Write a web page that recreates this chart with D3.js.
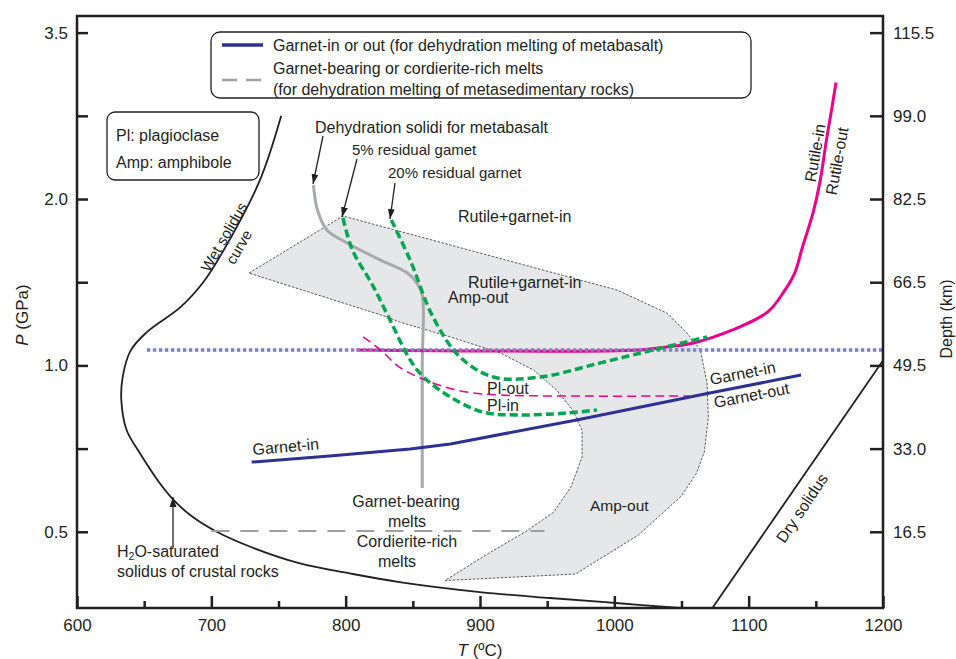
<!DOCTYPE html>
<html><head><meta charset="utf-8">
<script src="https://cdn.jsdelivr.net/npm/d3@7"></script>
<style>
body{margin:0;background:#fff}
text{font-family:"Liberation Sans",Arial,sans-serif;fill:#231f20}
</style>
</head><body>
<svg id="c" width="956" height="659"></svg>
<script>
// ---------- data (T in ºC, P in GPa on the linear depth scale) ----------
const xTicks = [600, 700, 800, 900, 1000, 1100, 1200];
const xMinorTicks = [650, 750, 850, 950, 1050, 1150];
const pTickValues = [3.5, 3.0, 2.5, 2.0, 1.5, 1.0, 0.5];
const pTickLabels = ["3.5", "", "2.0", "", "1.0", "", "0.5"];
const depthTickLabels = ["115.5", "99.0", "82.5", "66.5", "49.5", "33.0", "16.5"];

const wetSolidus = [[752,3.00],[736,2.61],[709,2.19],[694,2.00],[677,1.85],[652,1.70],[640,1.59],[634,1.43],[633,1.29],[637,1.11],[647,0.97],[660,0.81],[672,0.69],[686,0.59],[704,0.50],[729,0.41],[766,0.31],[803,0.25],[840,0.198],[900,0.138],[952,0.102],[1001,0.072],[1049,0.042]];
const drySolidus = [[1073,0.042],[1200,1.53]];
const ampField = [[728,2.055],[798,2.398],[1002,1.953],[1039,1.815],[1054,1.695],[1064,1.593],[1069,1.394],[1070,1.19],[1067,0.98],[1061,0.85],[1050,0.716],[1018,0.481],[971,0.246],[874,0.207],[905,0.364],[934,0.501],[955,0.619],[968,0.775],[976,0.95],[976,1.11],[969,1.232],[957,1.352],[940,1.472],[915,1.575],[878,1.671],[840,1.761],[831,1.791]];
const residualGarnet5 = [[798,2.386],[805,2.194],[820,1.983],[833,1.773],[848,1.533],[858,1.430],[878,1.310],[902,1.220],[928,1.202],[965,1.214],[987,1.232]];
const residualGarnet20 = [[834,2.374],[848,2.133],[865,1.791],[885,1.551],[910,1.430],[945,1.430],[989,1.514],[1029,1.593],[1069,1.671]];
const dehydrationSolidus = [[776,2.584],[779,2.434],[786,2.314],[801,2.236],[826,2.133],[846,2.055],[853,1.995],[857,1.923],[857,1.5],[857,0.763]];
const rutileLine = [[808,1.593],[1019,1.593],[1039,1.611],[1059,1.635],[1088,1.713],[1114,1.82],[1126,1.94],[1134,2.05],[1140,2.21],[1148,2.42],[1153,2.60],[1158,2.86],[1162,3.05],[1165,3.20]];
const dottedLine = [[652,1.593],[1200,1.593]];
const plOutLine = [[813,1.671],[826,1.593],[840,1.490],[865,1.394],[890,1.340],[915,1.322],[965,1.316],[1056,1.316]];
const garnetLine = [[730,0.919],[788,0.956],[848,0.998],[878,1.028],[972,1.172],[1071,1.334],[1139,1.442]];
const meltsLine = [[700,0.505],[948,0.505]];

// ---------- setup ----------
const svg = d3.select("#c");
svg.append("rect").attr("width",956).attr("height",659).attr("fill","#fff");
const x = d3.scaleLinear().domain([600,1200]).range([77,883]);
const y = d3.scaleLinear().domain([0.042,3.6]).range([608,16]);
const ink = "#231f20";

const defs = svg.append("defs");
defs.append("marker").attr("id","arr").attr("viewBox","0 0 10 7")
  .attr("refX",10).attr("refY",3.5).attr("markerWidth",10).attr("markerHeight",7)
  .attr("markerUnits","userSpaceOnUse").attr("orient","auto")
  .append("path").attr("d","M0,0L10,3.5L0,7Z").attr("fill",ink);

const smooth = d3.line().x(d=>x(d[0])).y(d=>y(d[1])).curve(d3.curveCatmullRom.alpha(0.5));
const straight = d3.line().x(d=>x(d[0])).y(d=>y(d[1]));

function draw(data, gen, stroke, width, dash){
  const p = svg.append("path").attr("d",gen(data)).attr("fill","none")
    .attr("stroke",stroke).attr("stroke-width",width);
  if(dash) p.attr("stroke-dasharray",dash);
  return p;
}

// amphibole field
svg.append("path")
  .attr("d", d3.line().x(d=>x(d[0])).y(d=>y(d[1])).curve(d3.curveLinearClosed)(ampField))
  .attr("fill","#e6e7e9").attr("stroke","#58595b").attr("stroke-width",1)
  .attr("stroke-dasharray","2.5,1.5");

draw(wetSolidus, smooth, ink, 1.8);
draw(drySolidus, straight, ink, 1.8);
draw(meltsLine, straight, "#9d9fa2", 2, "18,11");
draw(dehydrationSolidus, smooth, "#a7a9ac", 3);
draw(rutileLine, smooth, "#ec008c", 3);
draw(dottedLine, straight, "#7f7fc4", 3.5, "3.5,2.5");
draw(plOutLine, smooth, "#ec008c", 1.5, "9,5");
draw(garnetLine, straight, "#2e3192", 3);
draw(residualGarnet5, smooth, "#00a651", 3.5, "8,4");
draw(residualGarnet20, smooth, "#00a651", 3.5, "8,4");

// ---------- axes ----------
function styleAxis(g){
  g.select(".domain").remove();
  g.selectAll(".tick line").attr("stroke",ink).attr("stroke-width",2.5);
  g.selectAll(".tick text").attr("font-size",17).attr("fill",ink)
    .style("font-family","'Liberation Sans',Arial,sans-serif");
}
svg.append("g").attr("transform","translate(0,608)")
  .call(d3.axisBottom(x).tickValues(xTicks).tickSizeInner(-12).tickSizeOuter(0).tickPadding(11).tickFormat(d3.format("d")))
  .call(styleAxis);
svg.append("g").attr("transform","translate(0,608)")
  .call(d3.axisBottom(x).tickValues(xMinorTicks).tickSizeInner(-7).tickSizeOuter(0).tickFormat(""))
  .call(styleAxis);
svg.append("g").attr("transform","translate(77,0)")
  .call(d3.axisLeft(y).tickValues(pTickValues).tickSizeInner(-11).tickSizeOuter(0).tickPadding(9).tickFormat((d,i)=>pTickLabels[i]))
  .call(styleAxis);
svg.append("g").attr("transform","translate(883,0)")
  .call(d3.axisRight(y).tickValues(pTickValues).tickSizeInner(-13).tickSizeOuter(0).tickPadding(10).tickFormat((d,i)=>depthTickLabels[i]))
  .call(styleAxis);
svg.append("rect").attr("x",77).attr("y",16).attr("width",806).attr("height",592)
  .attr("fill","none").attr("stroke",ink).attr("stroke-width",2.5);

// axis titles
const tT = svg.append("text").attr("x",480).attr("y",656).attr("text-anchor","middle").attr("font-size",17);
tT.append("tspan").attr("font-style","italic").text("T");
tT.append("tspan").text(" (ºC)");
const tP = svg.append("text").attr("transform","translate(22,315) rotate(-90)").attr("text-anchor","middle").attr("dy","0.35em").attr("font-size",17);
tP.append("tspan").attr("font-style","italic").text("P");
tP.append("tspan").text(" (GPa)");
svg.append("text").attr("transform","translate(946,319) rotate(-90)").attr("text-anchor","middle").attr("dy","0.35em").attr("font-size",16).text("Depth (km)");

// ---------- legend ----------
svg.append("rect").attr("x",211).attr("y",32).attr("width",540).attr("height",66).attr("rx",9)
  .attr("fill","#fff").attr("stroke",ink).attr("stroke-width",1.3);
svg.append("line").attr("x1",222).attr("x2",263).attr("y1",45).attr("y2",45).attr("stroke","#2e3192").attr("stroke-width",3.5);
svg.append("line").attr("x1",222).attr("x2",263).attr("y1",80).attr("y2",80).attr("stroke","#9d9fa2").attr("stroke-width",2.5).attr("stroke-dasharray","15,9");
function label(t,x0,y0,opts={}){
  const e = svg.append("text").attr("x",x0).attr("y",y0).attr("font-size",opts.size||16).text(t);
  if(opts.anchor) e.attr("text-anchor",opts.anchor);
  if(opts.rot!==undefined) e.attr("transform",`rotate(${opts.rot},${x0},${y0})`);
  return e;
}
label("Garnet-in or out (for dehydration melting of metabasalt)",273,50.5);
label("Garnet-bearing or cordierite-rich melts",273,73.5);
label("(for dehydration melting of metasedimentary rocks)",273,94.5);

svg.append("rect").attr("x",107).attr("y",112).attr("width",152).attr("height",68).attr("rx",8)
  .attr("fill","#fff").attr("stroke",ink).attr("stroke-width",1.3);
label("Pl: plagioclase",116,140.5);
label("Amp: amphibole",116,167.5);

// ---------- annotations ----------
label("Dehydration solidi for metabasalt",315,132.5);
label("5% residual gamet",352,155,{size:15});
label("20% residual garnet",388,178,{size:15});
label("Rutile+garnet-in",458,222);
label("Rutile+garnet-in",468,288);
label("Amp-out",448,303);
label("Pl-out",487,394);
label("Pl-in",487,411);
label("Garnet-in",711,385,{rot:-11});
label("Garnet-out",715,408,{rot:-11});
label("Garnet-in",253,455,{rot:-5});
label("Garnet-bearing",406,507,{anchor:"middle"});
label("melts",407,527,{anchor:"middle"});
label("Cordierite-rich",407,547,{anchor:"middle"});
label("melts",397,567,{anchor:"middle"});
label("Amp-out",590,511,{size:15.5});
const h2o = svg.append("text").attr("x",117).attr("y",557).attr("font-size",16);
h2o.append("tspan").text("H");
h2o.append("tspan").attr("font-size",10.5).attr("dy",3).text("2");
h2o.append("tspan").attr("dy",-3).text("O-saturated");
label("solidus of crustal rocks",117,577);

function rotLabel(t,cx,cy,rot,size){
  svg.append("text").attr("transform",`translate(${cx},${cy}) rotate(${rot})`)
    .attr("text-anchor","middle").attr("dy","0.35em").attr("font-size",size||16).text(t);
}
rotLabel("Wet solidus",224,237,-60,15);
rotLabel("curve",239,247,-60,15);
rotLabel("Rutile-in",815,153,-80);
rotLabel("Rutile-out",837,161,-80);
rotLabel("Dry solidus",802,508,-56);

// arrows
function arrow(x1,y1,x2,y2){
  svg.append("line").attr("x1",x1).attr("y1",y1).attr("x2",x2).attr("y2",y2)
    .attr("stroke",ink).attr("stroke-width",1.3).attr("marker-end","url(#arr)");
}
arrow(323,136,313,184);
arrow(357,159,342,217);
arrow(395,183,390,219);
arrow(173,548,173,497);
</script>
</body></html>
